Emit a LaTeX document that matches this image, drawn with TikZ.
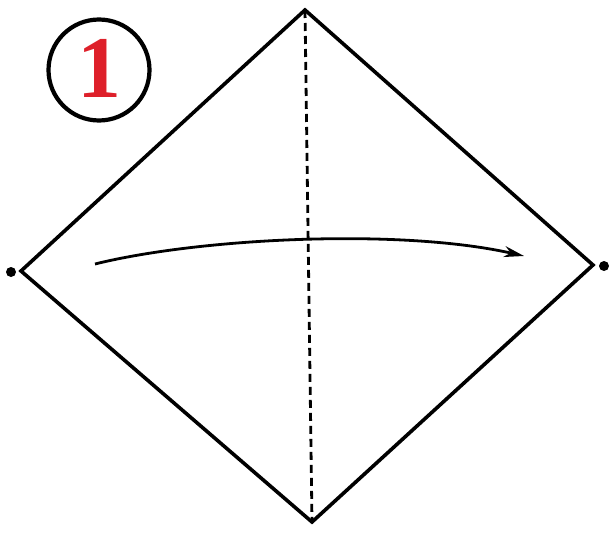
\documentclass[tikz,border=0pt]{standalone}
\usepackage{fontspec}
\setmainfont{Liberation Serif}
\usetikzlibrary{arrows.meta}
\definecolor{stepred}{RGB}{222,32,42}
\begin{document}
\begin{tikzpicture}[x=1pt,y=-1pt,
  edge/.style={line width=3.6pt,line join=miter},
  fold/.style={line width=2.8pt,dash pattern=on 8pt off 5pt},
  dot/.style={circle,fill=black,inner sep=0pt,minimum size=10pt},
  move/.style={line width=2.8pt,-{Stealth[length=20pt,width=11pt]}}]
\useasboundingbox (0,0) rectangle (609,532);
\coordinate (T) at (305,10);
\coordinate (L) at (21,271);
\coordinate (R) at (593,265);
\coordinate (B) at (312,522);
\draw[edge] (T) -- (R) -- (B) -- (L) -- cycle;
\draw[fold] (T) -- (B);
\node[dot] (dl) at (11,272) {};
\node[dot] (dr) at (604,266) {};
\coordinate (a1) at (95,264);
\coordinate (a2) at (524,256);
\draw[move] (a1) .. controls (200,238) and (400,228) .. (a2);
\node[circle,draw,line width=4.2pt,minimum size=101pt,inner sep=0pt] (num) at (99,70) {};
\node[text=stepred,font=\bfseries\fontsize{88}{88}\selectfont] (one) at (99,68) {1};
\end{tikzpicture}
\end{document}
